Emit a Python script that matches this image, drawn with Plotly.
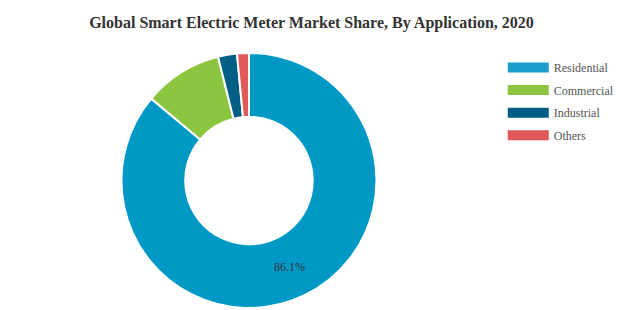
import plotly.graph_objects as go

title_text = "Global Smart Electric Meter Market Share, By Application, 2020"
categories = ["Residential", "Commercial", "Industrial", "Others"]
shares = [86.1, 10.0, 2.4, 1.5]
slice_labels = ["86.1%", "", "", ""]
colors = ["#0099c6", "#8cc540", "#005e85", "#e05858"]
legend_colors = ["#1a9dc8", "#8cc540", "#005e85", "#e05858"]

serif = "Liberation Serif, Times New Roman, serif"

fig = go.Figure()
fig.add_trace(go.Pie(
    labels=categories,
    values=shares,
    text=slice_labels,
    texttemplate="%{text}",
    textposition="inside",
    insidetextorientation="horizontal",
    textfont=dict(family=serif, size=12, color="#333333"),
    sort=False,
    direction="clockwise",
    rotation=0,
    hole=0.5,
    marker=dict(colors=colors, line=dict(color="white", width=2)),
    domain=dict(x=[0.195, 0.6043], y=[0.0065, 0.829]),
    showlegend=False,
    hoverinfo="label+percent",
))

for name, col in zip(categories, legend_colors):
    fig.add_trace(go.Scatter(
        x=[None], y=[None], mode="lines", name=name,
        legendgroup=name,
        line=dict(color=col, width=11),
        hoverinfo="skip",
    ))

fig.update_layout(
    width=623, height=310,
    margin=dict(l=0, r=0, t=0, b=0),
    paper_bgcolor="white", plot_bgcolor="white",
    title=dict(text="<b>" + title_text + "</b>", x=0.5, xanchor="center",
               y=1 - 22.5 / 310, yanchor="middle",
               font=dict(family=serif, size=16, color="#333333")),
    xaxis=dict(visible=False),
    yaxis=dict(visible=False),
    legend=dict(x=0.807, y=1 - 53 / 310, xanchor="left", yanchor="top",
                font=dict(family=serif, size=12, color="#555555"),
                itemwidth=41, tracegroupgap=3.6,
                bgcolor="rgba(0,0,0,0)"),
)

fig.write_html("out.html")
